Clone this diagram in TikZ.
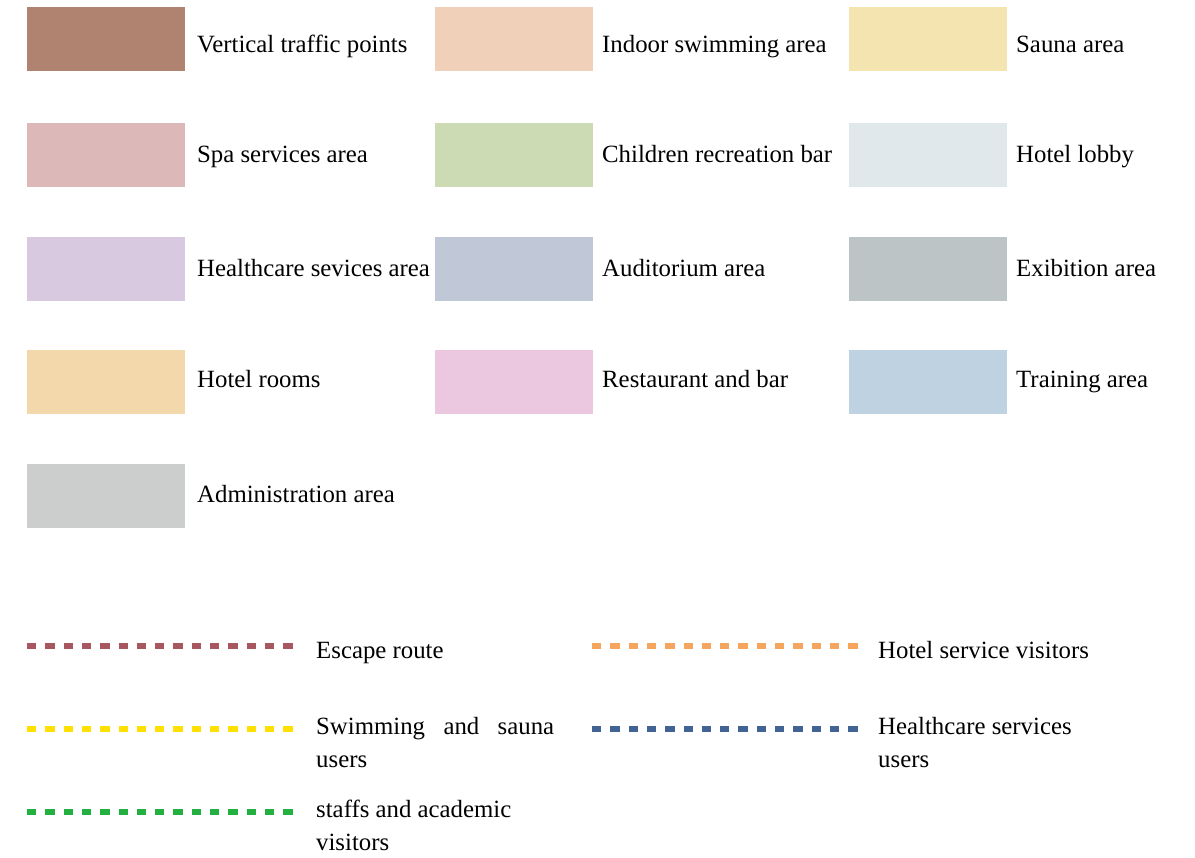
\documentclass[tikz,border=0pt]{standalone}
\usepackage{fontspec}
\setmainfont{Liberation Serif}
\usepackage{tikz}
\usetikzlibrary{positioning}

\definecolor{vtraffic}{HTML}{B08270}
\definecolor{indoorpool}{HTML}{F0D0B8}
\definecolor{sauna}{HTML}{F4E4B0}
\definecolor{spa}{HTML}{DCB8B8}
\definecolor{children}{HTML}{CCDBB4}
\definecolor{lobby}{HTML}{E0E8EC}
\definecolor{health}{HTML}{D8C8E0}
\definecolor{auditorium}{HTML}{C0C8D8}
\definecolor{exhibit}{HTML}{BCC4C6}
\definecolor{rooms}{HTML}{F2D8AA}
\definecolor{restaurant}{HTML}{ECC8E0}
\definecolor{training}{HTML}{BED2E2}
\definecolor{admin}{HTML}{CCCECE}
\definecolor{escape}{HTML}{A85761}
\definecolor{hotelvis}{HTML}{F5A55E}
\definecolor{swimusers}{HTML}{FFE000}
\definecolor{healthusers}{HTML}{416494}
\definecolor{staffvis}{HTML}{22B040}

\begin{document}
\begin{tikzpicture}[x=1pt, y=-1pt,
    font=\fontsize{24.8}{33}\selectfont,
    swatch/.style={rectangle, draw=none, inner sep=0pt,
      minimum width=158pt, minimum height=64pt},
    legendtext/.style={anchor=base west, inner sep=0pt, align=left},
    route/.style={line width=6pt, dash pattern=on 9.3pt off 9pt}]
  \useasboundingbox (0,0) rectangle (1195,858);

  % colour swatches: name / colour / x / y
  \foreach \nm/\col/\x/\y in {vt/vtraffic/106/39, ip/indoorpool/514/39, sa/sauna/928/39,
      sp/spa/106/155, ch/children/514/155, lo/lobby/928/155,
      hc/health/106/269, au/auditorium/514/269, ex/exhibit/928/269,
      hr/rooms/106/382, rb/restaurant/514/382, tr/training/928/382,
      ad/admin/106/496}
    \node[swatch, fill=\col] (\nm) at (\x,\y) {};

  \node[legendtext] (vt-txt) at (197,53)  {Vertical traffic points};
  \node[legendtext] (ip-txt) at (602,53)  {Indoor swimming area};
  \node[legendtext] (sa-txt) at (1016,53) {Sauna area};
  \node[legendtext] (sp-txt) at (197,163)  {Spa services area};
  \node[legendtext] (ch-txt) at (602,163)  {Children recreation bar};
  \node[legendtext] (lo-txt) at (1016,163) {Hotel lobby};
  \node[legendtext] (hc-txt) at (197,277)  {Healthcare sevices area};
  \node[legendtext] (au-txt) at (602,277)  {Auditorium area};
  \node[legendtext] (ex-txt) at (1016,277) {Exibition area};
  \node[legendtext] (hr-txt) at (197,388)  {Hotel rooms};
  \node[legendtext] (rb-txt) at (602,388)  {Restaurant and bar};
  \node[legendtext] (tr-txt) at (1016,388) {Training area};
  \node[legendtext] (ad-txt) at (197,503)  {Administration area};

  % route lines
  \draw[route, escape]      (27,646)  -- (295,646);
  \draw[route, swimusers]   (27,729)  -- (295,729);
  \draw[route, staffvis]    (27,812)  -- (295,812);
  \draw[route, hotelvis]    (592,646) -- (860,646);
  \draw[route, healthusers] (592,729) -- (860,729);

  % two-line labels sit on the baseline of their last line
  \node[legendtext] (esc-txt) at (316,658) {Escape route};
  \node[legendtext] (sw-txt)  at (316,767) {\makebox[238pt][s]{Swimming and sauna}\\users};
  \node[legendtext] (st-txt)  at (316,850) {staffs and academic\\visitors};
  \node[legendtext] (hv-txt)  at (878,658) {Hotel service visitors};
  \node[legendtext] (hu-txt)  at (878,767) {Healthcare services\\users};
\end{tikzpicture}
\end{document}
